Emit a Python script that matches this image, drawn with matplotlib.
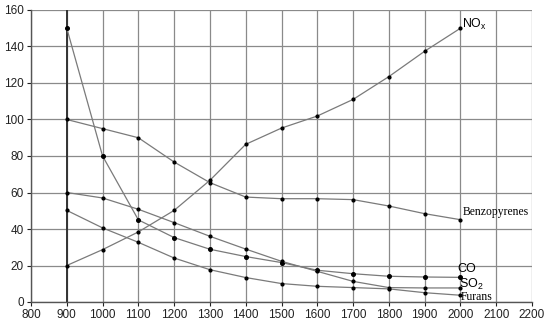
import matplotlib
matplotlib.use("Agg")
import matplotlib.pyplot as plt

temps = [900, 1000, 1100, 1200, 1300, 1400, 1500, 1600, 1700, 1800, 1900, 2000]
co = [150, 80, 45, 35.3, 28.9, 24.9, 21.6, 17.4, 15.5, 14.1, 13.7, 13.5]
benzopyrenes = [100, 95, 90, 76.7, 65.4, 57.5, 56.6, 56.6, 56.1, 52.6, 48.4, 45.1]
nox = [20, 28.7, 38.4, 50.2, 66.7, 86.4, 95.3, 101.9, 111, 123.5, 137.4, 150]
so2 = [60, 57, 50.8, 43.5, 36, 29, 22.3, 16.8, 11.3, 7.9, 7.7, 7.7]
furans = [50.2, 40.6, 32.7, 24.1, 17.7, 13.4, 10.1, 8.6, 7.9, 7.2, 5.1, 3.7]

x_ticks = list(range(800, 2201, 100))
y_ticks = list(range(0, 161, 20))

fig = plt.figure(figsize=(5.5, 3.29), dpi=100)
ax = fig.add_axes([31/550, 1 - 302/329, (532 - 31)/550, (302 - 10)/329])
ax.set_xlim(800, 2200)
ax.set_ylim(0, 160)
ax.set_xticks(x_ticks)
ax.set_yticks(y_ticks)
ax.grid(True, color="#8a8a8a", linewidth=0.9)
ax.set_axisbelow(True)
ax.axvline(900, color="#333333", linewidth=1.4, zorder=1)
for s in ["top", "right"]:
    ax.spines[s].set_visible(False)
for s in ["left", "bottom"]:
    ax.spines[s].set_color("#555555")
    ax.spines[s].set_linewidth(1.0)
ax.tick_params(axis="both", labelsize=8.5, colors="#222222", length=3, width=0.8, pad=2)
for lab in ax.get_xticklabels() + ax.get_yticklabels():
    lab.set_family("Liberation Sans")

line_kw = dict(color="#7a7a7a", linewidth=0.9, marker="o", markersize=2.0,
               markerfacecolor="black", markeredgecolor="black", zorder=3)
ax.plot(temps, co, **{**line_kw, "markersize": 2.6})
ax.plot(temps, benzopyrenes, **line_kw)
ax.plot(temps, nox, **line_kw)
ax.plot(temps, so2, **line_kw)
ax.plot(temps, furans, **line_kw)

ax.text(2003, 152, r"NO$_\mathregular{x}$", fontsize=8.8, family="Liberation Sans", va="center", ha="left")
ax.text(2006, 49.3, "Benzopyrenes", fontsize=8.4, family="Liberation Serif", va="center", ha="left")
ax.text(1992, 18.0, "CO", fontsize=9, family="Liberation Sans", va="center", ha="left")
ax.text(1997, 9.8, r"SO$_\mathregular{2}$", fontsize=9, family="Liberation Sans", va="center", ha="left")
ax.text(2001, 3.0, "Furans", fontsize=8.4, family="Liberation Serif", va="center", ha="left")

fig.savefig("out.png", dpi=100)
